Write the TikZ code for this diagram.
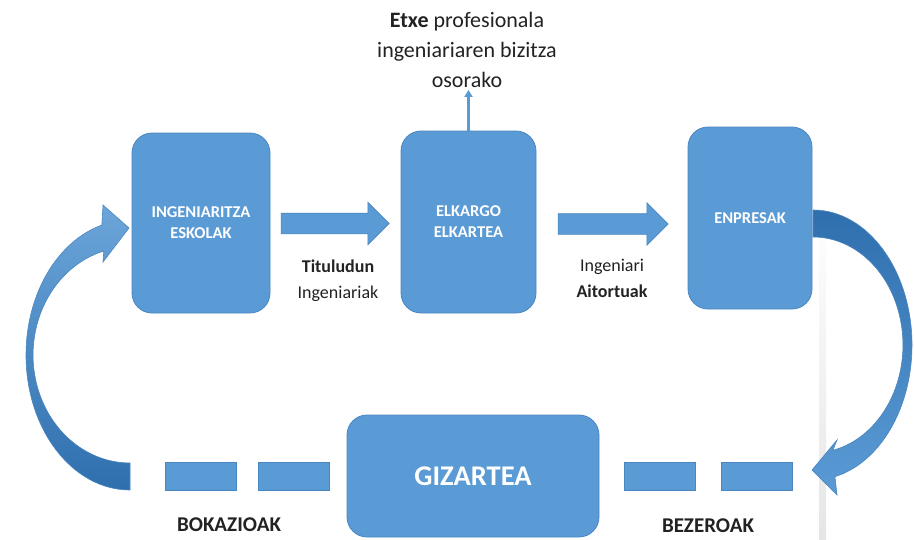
\documentclass[tikz,border=0pt]{standalone}
\usepackage{fontspec}
\setmainfont{Carlito}
\usetikzlibrary{shapes.arrows,arrows.meta}

\definecolor{boxblue}{HTML}{5B9BD5}
\definecolor{edgeblue}{HTML}{4A86C0}
\definecolor{deepblue}{HTML}{2F6FAE}
\definecolor{textgray}{HTML}{222222}

\tikzset{
  box/.style={rectangle, rounded corners=20pt, fill=boxblue, draw=edgeblue,
    line width=0.8pt, text=white, align=center, inner sep=0pt,
    font=\bfseries\fontsize{16.5}{21}\selectfont},
  bar/.style={rectangle, fill=boxblue, draw=edgeblue, line width=0.6pt,
    minimum width=71pt, minimum height=28pt, inner sep=0pt},
  fatarrow/.style={single arrow, fill=boxblue, draw=edgeblue, line width=0.6pt,
    single arrow head extend=11pt, single arrow head indent=0pt, inner sep=0pt},
  lbltext/.style={align=center, text=textgray, inner sep=0pt,
    font=\fontsize{18}{26}\selectfont},
  curl/.style={draw=edgeblue, line width=0.6pt}
}
\newcommand{\shaft}{\rule{0pt}{20pt}}

\begin{document}
\begin{tikzpicture}[x=1pt,y=-1pt]
  \useasboundingbox (0,0) rectangle (914,539);
  % faint slide edge in the background
  \shade[top color=white, bottom color=black!10] (819,200) rectangle (826,539);

  % boxes
  \node[box, minimum width=138pt, minimum height=180pt] (eskola) at (201,223) {INGENIARITZA\\ESKOLAK};
  \node[box, minimum width=135pt, minimum height=182pt] (elkargo) at (468.5,222) {ELKARGO\\ELKARTEA};
  \node[box, minimum width=124pt, minimum height=182pt] (enpresa) at (750,218) {ENPRESAK};
  \node[box, minimum width=252pt, minimum height=122pt, font=\bfseries\fontsize{28.5}{30}\selectfont] (gizartea) at (473,476) {GIZARTEA};

  % straight arrows between the boxes
  \node[fatarrow, minimum height=108pt] (arr1) at (330,223.5) {\shaft};
  \node[fatarrow, minimum height=110pt] (arr2) at (608,224) {\shaft};
  \node[lbltext] (tit) at (338,281) {\textbf{Tituludun}\\Ingeniariak};
  \node[lbltext] (aitor) at (612,278) {Ingeniari\\\textbf{Aitortuak}};

  % top text
  \node[lbltext, font=\fontsize{22}{30}\selectfont] (etxe) at (467,50) {\textbf{Etxe} profesionala\\ingeniariaren bizitza\\osorako};
  \draw[line width=2.5pt, boxblue, -{Triangle[width=8pt,length=7pt]}]
    (elkargo.north) -- ([yshift=-2pt]elkargo.north |- etxe.south);

  % dashes on the bottom line
  \node[bar] (bar1) at (200.5,476.5) {};
  \node[bar] (bar2) at (293.5,476) {};
  \node[bar] (bar3) at (659.5,476) {};
  \node[bar] (bar4) at (756.5,476) {};
  \node[lbltext, font=\bfseries\fontsize{21}{24}\selectfont] (bokazio) at (229,525) {BOKAZIOAK};
  \node[lbltext, font=\bfseries\fontsize{21}{24}\selectfont] (bezero) at (708,526) {BEZEROAK};

  % curved arrows
  \path[curl, top color=boxblue!90!white, bottom color=deepblue]
    (130,490) arc[start angle=90, end angle=254.3, x radius=104, y radius=135]
    -- (103,205) -- (129,228) -- (103,262) -- (103.8,251)
    arc[start angle=254.3, end angle=90, x radius=97, y radius=108] -- cycle;
  \path[curl, top color=deepblue, bottom color=boxblue]
    (813,210) arc[start angle=-90, end angle=77.2, x radius=99, y radius=135]
    -- (837,495) -- (812,470) -- (837,440) -- (832.9,450.3)
    arc[start angle=77.2, end angle=-90, x radius=90, y radius=108] -- cycle;
\end{tikzpicture}
\end{document}
